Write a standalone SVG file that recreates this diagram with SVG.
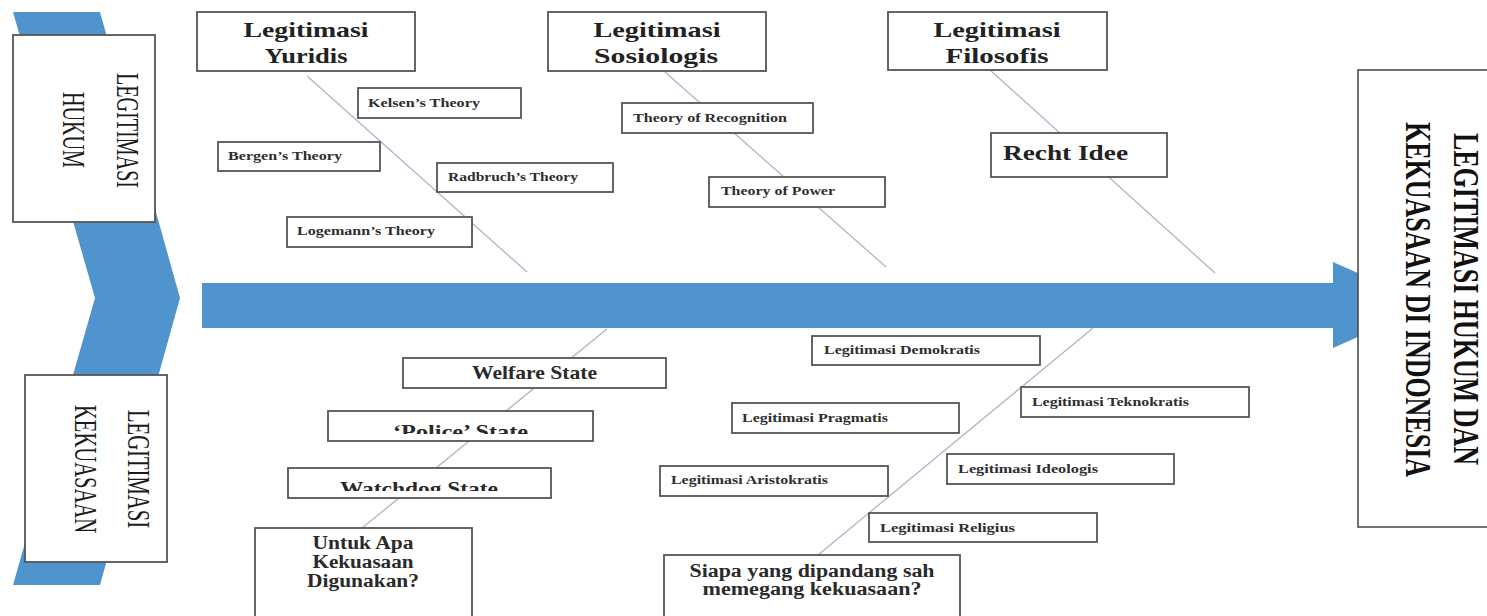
<svg xmlns="http://www.w3.org/2000/svg" width="1487" height="616" viewBox="0 0 1487 616">
  <style>
    .box { fill: #ffffff; stroke: #555555; stroke-width: 1.8; }
    .bone { stroke: #a9b7ca; stroke-width: 1.3; fill: none; }
    .blue { fill: #4f94cd; }
    .big { font-family: "Liberation Serif", serif; font-weight: bold; font-size: 21px; fill: #222222; text-anchor: middle; }
    .mid { font-family: "Liberation Serif", serif; font-weight: bold; font-size: 18px; fill: #2a2a2a; text-anchor: middle; }
    .small { font-family: "Liberation Serif", serif; font-weight: bold; font-size: 12.5px; fill: #2e2e2e; }
    .side { font-family: "Liberation Serif", serif; font-size: 32px; fill: #1a1a1a; text-anchor: middle; }
    .title { font-family: "Liberation Serif", serif; font-weight: bold; font-size: 36px; fill: #111111; text-anchor: middle; }
  </style>
  <defs>
    <clipPath id="clipPolice"><rect x="328" y="411" width="265" height="23"/></clipPath>
    <clipPath id="clipWatchdog"><rect x="288" y="468" width="263" height="23"/></clipPath>
  </defs>

  <rect width="1487" height="616" fill="#ffffff"/>

  <!-- spine: chevron tail and main arrow -->
  <g id="spine">
    <polygon class="blue" points="13,12 100,12 180,298 100,585 13,585 95,298"/>
    <polygon class="blue" points="202,283 1333,283 1333,262 1430,305 1333,348 1333,328 202,328"/>
  </g>

  <!-- bones -->
  <g id="connectors">
    <line class="bone" x1="307" y1="76" x2="527" y2="272"/>
    <line class="bone" x1="665" y1="72" x2="886" y2="267"/>
    <line class="bone" x1="990" y1="70" x2="1215" y2="273"/>
    <line class="bone" x1="607" y1="329" x2="362" y2="528"/>
    <line class="bone" x1="1093" y1="328" x2="818" y2="555"/>
  </g>

  <!-- side category boxes -->
  <g id="legitimasi-hukum">
    <rect class="box" x="13" y="35" width="142" height="187"/>
    <text class="side" transform="translate(117,130.5) rotate(90)" textLength="115" lengthAdjust="spacingAndGlyphs">LEGITIMASI</text>
    <text class="side" transform="translate(63,130) rotate(90)" textLength="76" lengthAdjust="spacingAndGlyphs">HUKUM</text>
  </g>
  <g id="legitimasi-kekuasaan">
    <rect class="box" x="25" y="375" width="142" height="187"/>
    <text class="side" transform="translate(128,469) rotate(90)" textLength="118" lengthAdjust="spacingAndGlyphs">LEGITIMASI</text>
    <text class="side" transform="translate(75,469) rotate(90)" textLength="128" lengthAdjust="spacingAndGlyphs">KEKUASAAN</text>
  </g>

  <!-- head -->
  <g id="head">
    <rect class="box" x="1358" y="70" width="140" height="457" style="stroke:#444444;stroke-width:1.5"/>
    <text class="title" transform="translate(1454,299) rotate(90)" textLength="332" lengthAdjust="spacingAndGlyphs">LEGITIMASI HUKUM DAN</text>
    <text class="title" transform="translate(1406,299.5) rotate(90)" textLength="355" lengthAdjust="spacingAndGlyphs">KEKUASAAN DI INDONESIA</text>
  </g>

  <!-- upper categories -->
  <g id="legitimasi-yuridis">
    <rect class="box" x="197" y="12" width="218" height="59"/>
    <text class="big" x="306" y="37" textLength="125" lengthAdjust="spacingAndGlyphs">Legitimasi</text>
    <text class="big" x="306" y="63" textLength="83" lengthAdjust="spacingAndGlyphs">Yuridis</text>
  </g>
  <g id="legitimasi-sosiologis">
    <rect class="box" x="548" y="12" width="218" height="59"/>
    <text class="big" x="657" y="37" textLength="127" lengthAdjust="spacingAndGlyphs">Legitimasi</text>
    <text class="big" x="656" y="63" textLength="124" lengthAdjust="spacingAndGlyphs">Sosiologis</text>
  </g>
  <g id="legitimasi-filosofis">
    <rect class="box" x="888" y="12" width="219" height="58"/>
    <text class="big" x="997" y="37" textLength="127" lengthAdjust="spacingAndGlyphs">Legitimasi</text>
    <text class="big" x="997" y="63" textLength="103" lengthAdjust="spacingAndGlyphs">Filosofis</text>
  </g>

  <!-- yuridis theories -->
  <g id="kelsen">
    <rect class="box" x="358" y="88" width="163" height="30"/>
    <text class="small" x="368" y="107" textLength="112" lengthAdjust="spacingAndGlyphs">Kelsen’s Theory</text>
  </g>
  <g id="bergen">
    <rect class="box" x="218" y="142" width="162" height="29"/>
    <text class="small" x="228" y="160" textLength="114" lengthAdjust="spacingAndGlyphs">Bergen’s Theory</text>
  </g>
  <g id="radbruch">
    <rect class="box" x="437" y="163" width="176" height="29"/>
    <text class="small" x="448" y="181" textLength="130" lengthAdjust="spacingAndGlyphs">Radbruch’s Theory</text>
  </g>
  <g id="logemann">
    <rect class="box" x="287" y="217" width="185" height="30"/>
    <text class="small" x="297" y="235" textLength="138" lengthAdjust="spacingAndGlyphs">Logemann’s Theory</text>
  </g>

  <!-- sosiologis theories -->
  <g id="recognition">
    <rect class="box" x="622" y="103" width="191" height="30"/>
    <text class="small" x="633" y="122" textLength="154" lengthAdjust="spacingAndGlyphs">Theory of Recognition</text>
  </g>
  <g id="power">
    <rect class="box" x="709" y="177" width="176" height="30"/>
    <text class="small" x="721" y="195" textLength="114" lengthAdjust="spacingAndGlyphs">Theory of Power</text>
  </g>

  <!-- filosofis -->
  <g id="recht-idee">
    <rect class="box" x="991" y="133" width="176" height="44"/>
    <text class="big" x="1065.5" y="160" style="font-size:22px" textLength="125" lengthAdjust="spacingAndGlyphs">Recht Idee</text>
  </g>

  <!-- state types -->
  <g id="welfare-state">
    <rect class="box" x="403" y="358" width="263" height="30"/>
    <text class="mid" x="534.5" y="379" style="font-size:19px" textLength="125" lengthAdjust="spacingAndGlyphs">Welfare State</text>
  </g>
  <g id="police-state">
    <rect class="box" x="328" y="411" width="265" height="30"/>
    <text class="mid" x="460.5" y="438" style="font-size:19px" clip-path="url(#clipPolice)" textLength="135" lengthAdjust="spacingAndGlyphs">‘Police’ State</text>
  </g>
  <g id="watchdog-state">
    <rect class="box" x="288" y="468" width="263" height="30"/>
    <text class="mid" x="419" y="495" style="font-size:19px" clip-path="url(#clipWatchdog)" textLength="158" lengthAdjust="spacingAndGlyphs">Watchdog State</text>
  </g>
  <g id="untuk-apa">
    <rect class="box" x="255" y="528" width="217" height="100"/>
    <text class="mid" x="363" y="549" textLength="101" lengthAdjust="spacingAndGlyphs">Untuk Apa</text>
    <text class="mid" x="363" y="568" textLength="101" lengthAdjust="spacingAndGlyphs">Kekuasaan</text>
    <text class="mid" x="363" y="587" textLength="112" lengthAdjust="spacingAndGlyphs">Digunakan?</text>
  </g>

  <!-- sources of legitimacy -->
  <g id="demokratis">
    <rect class="box" x="812" y="336" width="228" height="29"/>
    <text class="small" x="824" y="354" textLength="156" lengthAdjust="spacingAndGlyphs">Legitimasi Demokratis</text>
  </g>
  <g id="pragmatis">
    <rect class="box" x="732" y="403" width="227" height="30"/>
    <text class="small" x="742" y="422" textLength="146" lengthAdjust="spacingAndGlyphs">Legitimasi Pragmatis</text>
  </g>
  <g id="teknokratis">
    <rect class="box" x="1021" y="387" width="228" height="30"/>
    <text class="small" x="1032" y="406" textLength="157" lengthAdjust="spacingAndGlyphs">Legitimasi Teknokratis</text>
  </g>
  <g id="aristokratis">
    <rect class="box" x="660" y="466" width="228" height="30"/>
    <text class="small" x="671" y="484" textLength="157" lengthAdjust="spacingAndGlyphs">Legitimasi Aristokratis</text>
  </g>
  <g id="ideologis">
    <rect class="box" x="947" y="454" width="227" height="30"/>
    <text class="small" x="958" y="473" textLength="140" lengthAdjust="spacingAndGlyphs">Legitimasi Ideologis</text>
  </g>
  <g id="religius">
    <rect class="box" x="869" y="513" width="228" height="29"/>
    <text class="small" x="880" y="532" textLength="135" lengthAdjust="spacingAndGlyphs">Legitimasi Religius</text>
  </g>
  <g id="siapa">
    <rect class="box" x="664" y="555" width="296" height="80"/>
    <text class="mid" x="812" y="577" textLength="245" lengthAdjust="spacingAndGlyphs">Siapa yang dipandang sah</text>
    <text class="mid" x="812" y="595" textLength="219" lengthAdjust="spacingAndGlyphs">memegang kekuasaan?</text>
  </g>
</svg>
